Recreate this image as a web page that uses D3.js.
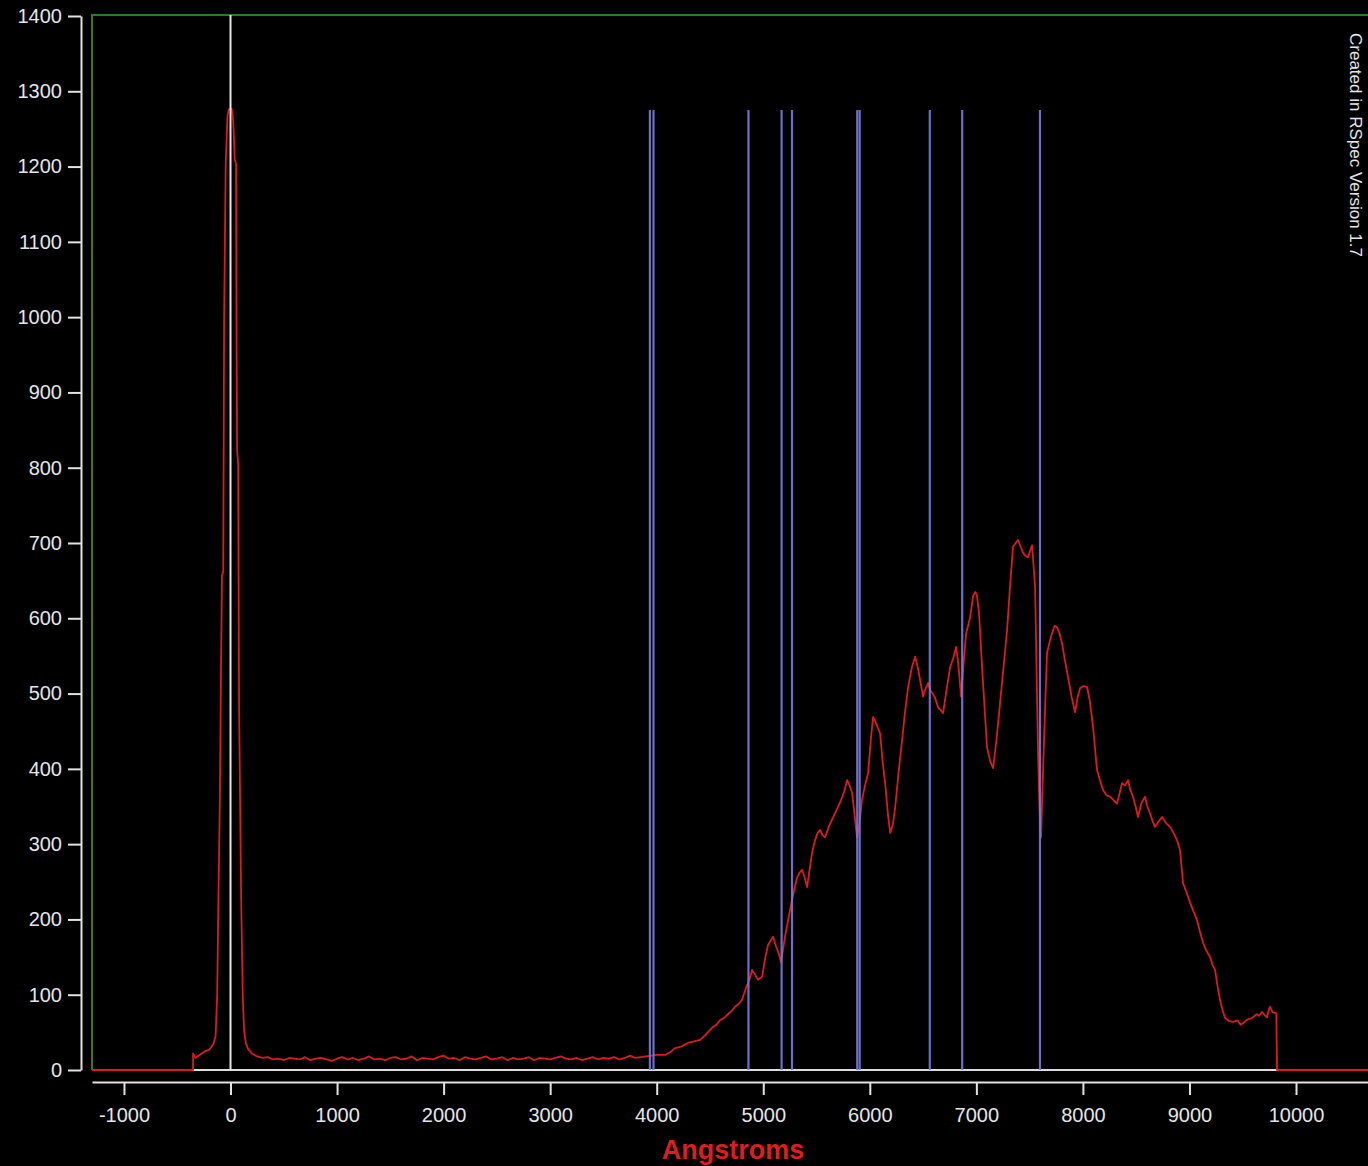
<!DOCTYPE html>
<html>
<head>
<meta charset="utf-8">
<script src="https://cdn.jsdelivr.net/npm/d3@7"></script>
<style>
  body { margin: 0; background: #000; }
  svg { display: block; background: #000; }
  .axis text { font-family: "Liberation Sans", Arial, sans-serif; font-size: 20px; fill: #e6e6e6; }
  .axis path, .axis line { stroke: #e2e2e2; stroke-width: 2; }
</style>
</head>
<body>
<div id="chart"></div>
<script>
// data: zero order image, flat background, first order spectrum (wavelength, counts)
var zeroOrder = [[-1300, 0], [-352, 0], [-351, 22], [-330, 16], [-300, 19], [-250, 24], [-200, 27], [-160, 35],
    [-140, 45], [-125, 100], [-115, 210], [-100, 360], [-90, 520], [-80, 657], [-68, 662], [-60, 1000],
    [-45, 1205], [-28, 1268], [-15, 1276], [10, 1277], [25, 1262], [40, 1210], [52, 1203], [56, 1000],
    [62, 823], [72, 805], [80, 491], [92, 330], [100, 226], [115, 100], [127, 53], [145, 35], [165, 28], [200, 22]]

var background = [[250, 18], [300, 16], [350, 17], [400, 14], [450, 15], [500, 13], [550, 16], [600, 15],
    [650, 14], [700, 17], [750, 13], [800, 15], [850, 16], [900, 14], [950, 12], [1000, 15], [1050, 17],
    [1100, 14], [1150, 16], [1200, 13], [1250, 15], [1300, 18], [1350, 14], [1400, 15], [1450, 13],
    [1500, 16], [1550, 17], [1600, 14], [1650, 15], [1700, 18], [1750, 13], [1800, 16], [1850, 15],
    [1900, 14], [1950, 17], [2000, 19], [2050, 15], [2100, 16], [2150, 13], [2200, 17], [2250, 15],
    [2300, 14], [2350, 16], [2400, 18], [2450, 14], [2500, 15], [2550, 17], [2600, 13], [2650, 16],
    [2700, 14], [2750, 15], [2800, 17], [2850, 13], [2900, 16], [2950, 15], [3000, 14], [3050, 16],
    [3100, 18], [3150, 15], [3200, 14], [3250, 16], [3300, 13], [3350, 15], [3400, 17], [3450, 14],
    [3500, 16], [3550, 15], [3600, 17], [3650, 14], [3700, 16], [3750, 19], [3800, 16], [3850, 17], [3900, 18]]

var firstOrder = [[3950, 19], [4000, 20], [4080, 20], [4130, 24], [4172, 29], [4230, 31], [4294, 36],
    [4350, 38], [4406, 40], [4453, 46], [4519, 56], [4560, 60], [4594, 66], [4630, 69], [4660, 73],
    [4700, 78], [4735, 84], [4770, 88], [4800, 93], [4838, 109], [4870, 120], [4895, 133], [4925, 126],
    [4951, 120], [4989, 124], [5020, 150], [5045, 166], [5070, 172], [5092, 177], [5120, 164], [5145, 155],
    [5167, 143], [5185, 160], [5204, 177], [5233, 199], [5270, 226], [5300, 245], [5317, 255], [5340, 262],
    [5364, 266], [5390, 255], [5411, 243], [5439, 270], [5460, 290], [5486, 305], [5510, 315], [5533, 319],
    [5555, 312], [5580, 309], [5620, 325], [5674, 341], [5720, 355], [5760, 370], [5787, 385], [5810, 378],
    [5834, 368], [5860, 335], [5880, 309], [5905, 330], [5927, 359], [5955, 378], [5984, 394], [6010, 440],
    [6031, 469], [6060, 460], [6097, 447], [6120, 410], [6144, 381], [6170, 340], [6191, 315], [6215, 325],
    [6238, 349], [6270, 395], [6303, 438], [6330, 475], [6360, 509], [6395, 535], [6426, 549], [6450, 535],
    [6472, 518], [6500, 496], [6520, 505], [6547, 514], [6565, 505], [6585, 501], [6610, 495], [6641, 482],
    [6665, 478], [6688, 474], [6720, 505], [6754, 535], [6785, 548], [6810, 562], [6830, 540], [6857, 496],
    [6880, 540], [6904, 580], [6940, 600], [6970, 630], [6990, 635], [7006, 630], [7025, 607], [7060, 520],
    [7100, 429], [7130, 410], [7157, 401], [7190, 440], [7222, 487], [7255, 535], [7288, 584], [7315, 640],
    [7344, 695], [7370, 700], [7391, 704], [7415, 695], [7438, 687], [7460, 683], [7485, 681], [7505, 690],
    [7523, 697], [7551, 642], [7579, 421], [7595, 340], [7607, 309], [7626, 398], [7645, 480], [7663, 554],
    [7690, 570], [7710, 580], [7735, 590], [7757, 588], [7780, 580], [7804, 567], [7830, 545], [7860, 522],
    [7895, 495], [7926, 475], [7950, 495], [7973, 507], [8005, 510], [8039, 509], [8065, 490], [8095, 456],
    [8115, 425], [8133, 398], [8160, 385], [8189, 372], [8220, 365], [8255, 363], [8290, 358], [8320, 354],
    [8345, 368], [8367, 381], [8395, 378], [8423, 385], [8445, 372], [8470, 363], [8495, 350], [8517, 336],
    [8550, 355], [8583, 363], [8605, 350], [8630, 341], [8655, 330], [8677, 323], [8710, 330], [8743, 336],
    [8780, 328], [8818, 323], [8850, 315], [8884, 305], [8912, 292], [8940, 248], [8975, 235], [9006, 222],
    [9040, 210], [9071, 199], [9100, 183], [9128, 169], [9160, 158], [9194, 150], [9215, 140], [9240, 133],
    [9265, 110], [9287, 93], [9310, 80], [9334, 69], [9370, 65], [9409, 64], [9450, 66], [9480, 60],
    [9503, 62], [9540, 67], [9570, 68], [9597, 70], [9630, 74], [9655, 72], [9681, 77], [9705, 73],
    [9728, 70], [9745, 80], [9756, 84], [9780, 77], [9803, 76], [9815, 75], [9822, 0], [10700, 0]]

// reference lines (Ca H&K, H-beta, Mg, Fe, Na D, H-alpha, O2 B, O2 A)
var refLines = [3936, 3970, 4861, 5172, 5270, 5882, 5905, 6563, 6867, 7597]
var refTop = 1275

var xTicks = d3.range(-1000, 10001, 1000)
var yTicks = d3.range(0, 1401, 100)

var spectrum = zeroOrder.concat(background, firstOrder)

// svg dimensions
var w = 1368,
    h = 1166,
    px = 92,
    py = 16,
    pb = 1070,
    axisY = 1082,
    axisX = 81

var svg = d3.select('#chart')
    .append('svg')
    .attr('width', w)
    .attr('height', h)

// scales
var xscale = d3.scaleLinear()
    .domain([-1300, 10700])
    .range([px, px + 12000 * 0.10655])

var yscale = d3.scaleLinear()
    .domain([0, 1400])
    .range([pb, py])

// frame
svg.append('path')
    .attr('d', `M${px},${pb} V${py - 1} H${w}`)
    .attr('fill', 'none')
    .attr('stroke', '#2f7a2f')
    .attr('stroke-width', 2)

// zero line
svg.append('line')
    .attr('x1', px)
    .attr('x2', w)
    .attr('y1', yscale(0))
    .attr('y2', yscale(0))
    .attr('stroke', '#dcdcdc')
    .attr('stroke-width', 2)

// spectrum
var line = d3.line()
    .x(d => xscale(d[0]))
    .y(d => yscale(d[1]))

svg.append('path')
    .datum(spectrum)
    .attr('d', line)
    .attr('fill', 'none')
    .attr('stroke', '#dc1c1c')
    .attr('stroke-width', 1.8)
    .attr('stroke-linejoin', 'round')

// reference lines
svg.selectAll('.ref')
    .data(refLines)
    .enter()
    .append('line')
    .attr('class', 'ref')
    .attr('x1', d => xscale(d))
    .attr('x2', d => xscale(d))
    .attr('y1', yscale(refTop))
    .attr('y2', yscale(0))
    .attr('stroke', '#7a7ae0')
    .attr('stroke-opacity', 0.9)
    .attr('stroke-width', 2.2)

// zero wavelength marker
svg.append('line')
    .attr('x1', xscale(0))
    .attr('x2', xscale(0))
    .attr('y1', py - 1)
    .attr('y2', yscale(0))
    .attr('stroke', '#e6e6e6')
    .attr('stroke-width', 2)

// axes
var xaxis = d3.axisBottom(xscale)
    .tickValues(xTicks)
    .tickFormat(d => d)
    .tickSize(13)
    .tickSizeOuter(0)
    .tickPadding(13)

var yaxis = d3.axisLeft(yscale)
    .tickValues(yTicks)
    .tickFormat(d => d)
    .tickSize(13)
    .tickSizeOuter(0)
    .tickPadding(6)

svg.append('g')
    .attr('class', 'axis')
    .attr('transform', `translate(0,${axisY})`)
    .call(xaxis)

svg.append('g')
    .attr('class', 'axis')
    .attr('transform', `translate(${axisX},0)`)
    .call(yaxis)

// text
svg.append('text')
    .text('Angstroms')
    .attr('x', 733)
    .attr('y', 1159)
    .attr('text-anchor', 'middle')
    .attr('font-family', '"Liberation Sans Narrow", "Arial Narrow", "Liberation Sans", sans-serif')
    .attr('font-weight', 'bold')
    .attr('font-size', 27)
    .attr('fill', '#dc1e1e')

svg.append('text')
    .text('Created in RSpec Version 1.7')
    .attr('transform', 'translate(1350,33) rotate(90)')
    .attr('font-family', '"Liberation Sans", Arial, sans-serif')
    .attr('font-size', 17)
    .attr('fill', '#e6e6e6')
</script>
</body>
</html>
